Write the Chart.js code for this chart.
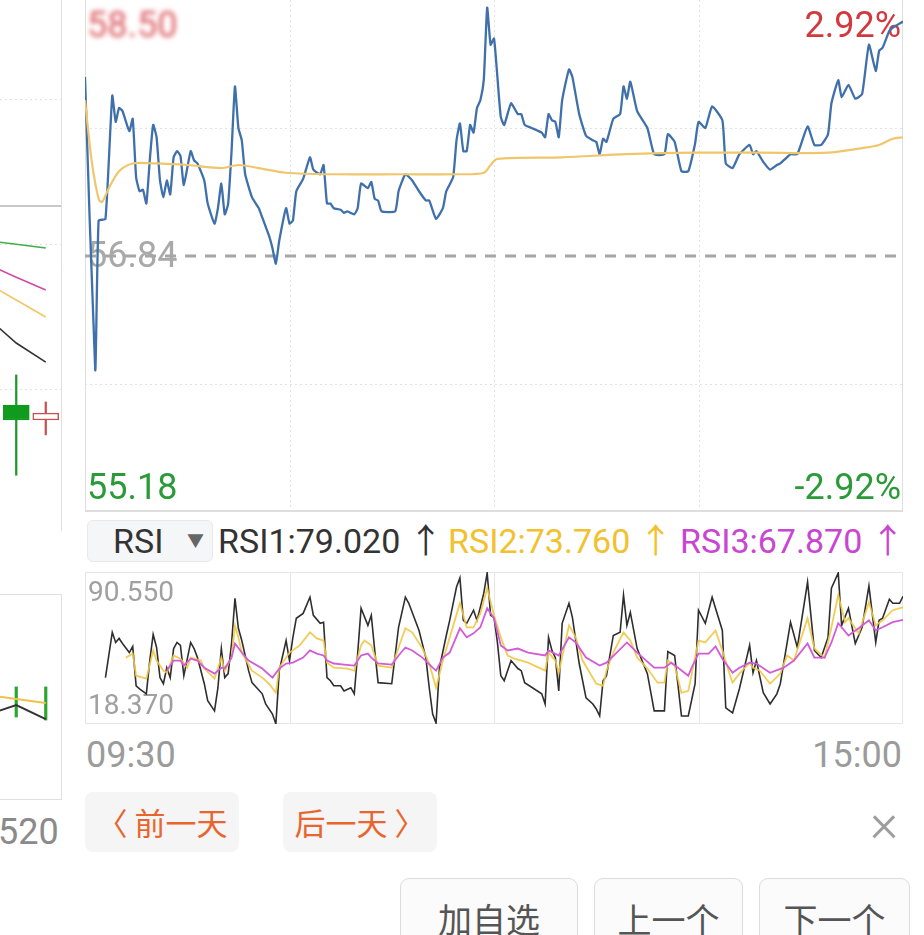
<!DOCTYPE html>
<html>
<head>
<meta charset="utf-8">
<script src="https://cdn.jsdelivr.net/npm/chart.js@4.4.1/dist/chart.umd.min.js"></script>
<style>
  html, body { margin: 0; padding: 0; background: #fff; width: 924px; height: 935px; overflow: hidden; }
  body { position: relative; font-family: Roboto, "Noto Sans CJK SC", sans-serif; }
  canvas { position: absolute; }
  .abs { position: absolute; white-space: nowrap; }
  .rsiBox { left: 87px; top: 520px; width: 124px; height: 40px; background: #f5f6f8; border: 1px solid #e8e9ec; border-radius: 6px; }
  .rsiTxt { top: 520px; height: 42px; line-height: 42px; font-size: 34px; }
  .timeTxt { top: 735px; line-height: 40px; font-size: 36px; color: #9b9b9b; }
  .dayBtn { top: 792px; width: 154px; height: 60px; line-height: 60px; background: #f5f5f5; border-radius: 8px; color: #e8662e; font-size: 31px; text-align: center; font-family: "Noto Sans CJK SC", sans-serif; }
  .navBtn { top: 878px; height: 80px; line-height: 80px; background: #fbfbfb; border: 1.5px solid #dcdcdc; border-radius: 9px; color: #555; font-size: 34px; text-align: center; font-family: "Noto Sans CJK SC", sans-serif; box-sizing: border-box; }
</style>
</head>
<body>
<canvas id="leftTop" width="62" height="531" style="left:0;top:0"></canvas>
<canvas id="leftBottom" width="62" height="206" style="left:0;top:594px"></canvas>
<canvas id="mainChart" width="818" height="512" style="left:85px;top:0"></canvas>
<canvas id="rsiChart" width="818" height="152" style="left:85px;top:572px"></canvas>

<div class="abs rsiBox">
  <span class="abs" style="left:25px;top:0;line-height:40px;font-size:34px;color:#333">RSI</span>
  <span class="abs" style="left:99px;top:0;line-height:40px;font-size:17px;color:#666">▼</span>
</div>
<div class="abs rsiTxt" id="rsi1Txt" style="left:218px;color:#333"></div>
<div class="abs rsiTxt" id="rsi2Txt" style="left:448px;color:#f2c12e"></div>
<div class="abs rsiTxt" id="rsi3Txt" style="left:680px;color:#c846d2"></div>

<div class="abs timeTxt" style="left:86px">09:30</div>
<div class="abs timeTxt" style="right:22px">15:00</div>

<div class="abs" style="left:-2px;top:812px;line-height:40px;font-size:36px;color:#8a8a8a">520</div>

<div class="abs dayBtn" style="left:85px">〈 前一天</div>
<div class="abs dayBtn" style="left:283px">后一天 〉</div>
<div class="abs" style="left:870px;top:796px;line-height:54px;font-size:54px;color:#9d9d9d;font-weight:300">×</div>

<div class="abs navBtn" style="left:400px;width:178px">加自选</div>
<div class="abs navBtn" style="left:594px;width:149px">上一个</div>
<div class="abs navBtn" style="left:759px;width:151px">下一个</div>

<script>
// ---- main intraday chart (minutes from 09:30, 0..240) ----
const prevClose = 56.84;
const limitPct = 2.92;
const gridMinutes = [60, 120, 180];
const mainGridPrices = [57.67, 56.01];

const priceMinutes = [0,3,4,6,8,9,10,11,13,14,
  15,16,17,18,19,20,21,22,23,24,
  25,26,27,28,29,31,32,33,35,36,
  38,39,40,41,42,43,44,45,46,47,
  49,51,52,54,55,56,57,59,60,61,
  62,64,66,67,69,70,71,72,73,75,
  76,77,79,80,81,83,84,85,86,87,
  91,92,94,96,98,100,101,103,105,106,
  108,109,110,111,112,113,114,115,116,117,
  118,119,120,121,122,123,125,127,128,129,
  131,134,135,136,137,138,139,140,142,143,
  145,147,149,150,151,152,153,155,157,158,
  159,160,162,165,167,170,171,173,175,177,
  179,180,182,184,187,188,190,192,195,196,
  197,199,201,203,204,207,209,212,214,216,
  218,219,221,222,224,226,228,230,232,233,
  234,236,237,240];
const priceValues = [58.00,56.10,57.07,57.08,57.88,57.71,57.80,57.78,57.65,57.73,
  57.35,57.26,57.27,57.18,57.46,57.69,57.61,57.33,57.22,57.33,
  57.24,57.48,57.52,57.49,57.30,57.52,57.46,57.44,57.33,57.18,
  57.05,57.15,57.31,57.11,57.18,57.52,57.94,57.67,57.59,57.37,
  57.22,57.15,57.09,56.97,56.89,56.79,56.94,57.15,57.05,57.07,
  57.26,57.34,57.48,57.40,57.37,57.43,57.18,57.18,57.15,57.14,
  57.12,57.13,57.11,57.15,57.31,57.28,57.32,57.21,57.20,57.13,
  57.13,57.26,57.37,57.33,57.26,57.20,57.20,57.08,57.15,57.26,
  57.35,57.59,57.70,57.52,57.52,57.69,57.64,57.80,57.85,57.98,
  58.45,58.21,58.25,58.00,57.74,57.69,57.83,57.76,57.76,57.69,
  57.67,57.64,57.61,57.76,57.72,57.71,57.61,57.85,58.05,58.00,
  57.76,57.62,57.59,57.58,57.50,57.60,57.58,57.73,57.76,57.94,
  57.86,57.97,57.78,57.67,57.50,57.50,57.63,57.58,57.39,57.39,
  57.57,57.71,57.67,57.81,57.72,57.44,57.41,57.50,57.56,57.50,
  57.52,57.45,57.40,57.43,57.44,57.50,57.50,57.68,57.56,57.56,
  57.63,57.83,57.98,57.87,57.95,57.86,57.89,58.21,58.04,58.17,
  58.19,58.30,58.32,58.36];

const avgMinutes = [0,2,4,5,7,10,14,20,30,40,45,51,59,73,93,110,117,119,121,140,159,179,198,218,228,233,237,240];
const avgValues = [57.85,57.45,57.21,57.19,57.28,57.39,57.44,57.44,57.43,57.41,57.43,57.41,57.38,57.37,57.37,57.37,57.38,57.43,57.47,57.48,57.50,57.51,57.51,57.51,57.54,57.56,57.60,57.61];

// ---- RSI panel ----
const rsiMax = 90.55;
const rsiMin = 18.37;
const rsi1Minutes = [6,8,9,10,11,13,14,15,16,18,
  19,20,21,22,23,24,25,26,27,28,
  29,31,32,33,35,36,38,39,40,41,
  42,43,44,45,46,48,49,52,53,55,
  56,57,59,60,61,62,64,66,67,69,
  70,71,72,73,75,76,78,79,80,81,
  83,84,85,86,90,92,94,95,98,100,
  101,102,103,104,106,107,109,110,111,112,
  114,115,116,117,118,119,120,121,122,123,
  125,127,128,129,134,135,136,137,138,139,
  140,142,143,145,147,149,150,151,152,153,
  155,157,158,159,160,162,165,167,170,171,
  173,175,177,179,180,182,184,187,188,190,
  192,195,196,197,199,201,203,204,207,209,
  212,214,216,218,219,221,222,224,226,228,
  230,232,233,234,236,237,239,240];
const rsi1Values = [40.4,61.9,57.1,59.0,56.6,52.3,55.2,36.5,35.1,32.7,
  48.5,60.9,54.7,40.4,37.5,45.1,40.4,54.2,57.1,55.7,
  41.3,57.1,54.2,49.9,37.5,29.4,24.6,35.6,54.2,40.4,
  42.3,56.6,78.1,63.8,58.0,43.7,38.0,32.7,27.9,23.1,
  18.4,43.7,58.0,48.5,59.5,68.6,70.9,78.6,70.0,66.2,
  66.7,40.4,38.9,36.5,36.5,34.1,35.6,32.7,51.8,73.3,
  65.2,70.0,53.3,38.0,37.5,64.3,78.6,75.7,62.8,49.9,
  35.6,23.1,18.8,45.1,60.4,67.6,83.4,87.7,67.6,66.2,
  72.4,67.6,73.8,80.5,90.1,70.0,69.0,57.1,41.3,38.9,
  48.5,44.7,43.7,38.0,32.7,27.9,59.5,53.3,49.9,34.1,
  66.2,75.7,69.0,47.1,30.8,27.9,25.5,22.2,38.9,41.3,
  60.4,61.9,79.6,65.2,71.4,54.2,42.3,24.6,24.6,52.8,
  50.9,22.2,22.2,37.5,72.4,66.2,78.6,62.8,26.0,23.6,
  35.1,55.7,42.7,48.5,33.2,27.9,32.7,37.5,66.7,54.7,
  85.8,53.3,49.9,59.5,82.9,90.1,65.2,73.3,56.6,64.3,
  83.9,57.1,67.6,68.6,77.6,75.7,75.7,79.02];

const rsi2Minutes = [12,14,15,18,20,21,23,24,26,28,
  30,31,34,35,38,40,41,43,44,45,
  46,49,52,54,56,57,59,60,63,66,
  68,70,71,73,77,79,81,82,84,86,
  90,92,94,96,99,101,103,105,107,110,
  112,114,116,118,120,122,124,126,130,135,
  136,138,139,142,144,146,150,152,153,155,
  158,160,162,165,168,170,171,173,175,177,
  180,182,185,187,189,190,192,195,196,198,
  201,204,206,208,212,214,217,219,221,223,
  224,227,230,232,234,237,240];
const rsi2Values = [49.9,51.8,41.3,39.9,53.3,48.5,43.7,42.7,50.9,49.4,
  45.1,49.9,48.5,44.7,39.9,49.9,43.7,49.9,65.2,59.5,
  52.3,43.7,40.4,37.5,33.2,45.1,49.9,52.3,55.7,61.9,
  59.0,58.0,47.5,45.1,44.7,43.7,55.7,58.0,55.7,46.1,
  45.1,54.7,63.8,61.9,54.2,47.1,35.6,48.5,59.5,75.7,
  64.3,64.3,70.9,82.9,70.0,59.5,50.9,49.4,47.5,43.7,
  52.3,48.5,42.7,65.2,59.5,48.5,37.5,36.5,43.7,52.3,
  61.9,58.0,49.9,44.7,38.0,38.0,48.5,46.1,33.2,34.1,
  58.0,57.1,62.8,53.3,42.7,38.0,42.3,47.5,45.1,43.7,
  37.5,42.3,50.9,48.5,68.6,54.2,49.9,64.3,79.6,66.7,
  68.6,61.4,76.2,65.2,67.6,72.4,73.76];

const rsi3Minutes = [24,26,28,29,31,33,35,38,40,41,
  43,44,46,48,52,55,57,59,61,64,
  66,68,70,71,73,76,79,81,83,84,
  86,90,92,94,96,99,102,103,105,107,
  110,112,114,116,118,120,122,124,127,130,
  135,136,139,142,144,147,151,153,156,159,
  162,167,170,172,174,177,178,180,183,185,
  187,190,192,195,197,201,205,208,212,214,
  217,219,221,224,227,230,232,234,237,240];
const rsi3Values = [43.7,48.5,48.5,46.1,49.4,48.5,45.1,42.3,45.1,44.7,
  49.9,56.6,52.3,48.5,44.7,40.4,44.7,47.1,47.5,49.9,
  53.3,51.8,50.9,48.5,47.1,46.6,46.1,50.9,51.8,49.9,
  47.1,46.6,50.9,54.7,53.3,49.9,45.1,43.7,49.9,52.3,
  63.8,59.5,61.4,64.3,73.3,68.6,55.7,53.3,54.2,52.3,
  50.9,53.3,50.9,59.5,57.1,49.9,46.1,47.5,52.3,57.1,
  52.3,45.1,45.1,47.5,45.1,41.3,45.1,51.8,51.8,55.2,
  49.4,42.7,45.1,47.5,47.1,42.7,45.1,48.5,56.6,49.9,
  49.9,57.1,66.2,60.4,63.8,67.6,62.8,64.3,66.7,67.87];

// ---- partly visible K-line panel on the left ----
const leftIdx = [-1, 0, 1];
const leftMaGreen = [55.47, 55.40, 55.33];
const leftMaPink = [55.03, 54.78, 54.54];
const leftMaYellow = [54.67, 54.35, 54.03];
const leftMaBlack = [54.03, 53.54, 53.18];
const candleIdx = [0, 1];
const candleOpen = [52.37, 52.09];
const candleClose = [52.09, 52.22];
const candleHigh = [52.94, 52.43];
const candleLow = [51.05, 51.81];
const leftGridPrices = [58.14, 55.40, 52.67];
const leftSplitPrice = 56.12;

const lowIdx = [-1, 0, 1];
const lowYellow = [51.0, 49.0, 47.1];
const lowBlack = [41.3, 46.1, 39.3];
const lowBarIdx = [0, 1];
const lowBarTop = [54.9, 54.9];
const lowBarBottom = [40.3, 38.8];

function pts(xs, ys) {
  return xs.map((x, i) => ({ x: x, y: ys[i] }));
}

function hline(ctx, x1, x2, y) {
  ctx.beginPath(); ctx.moveTo(x1, y); ctx.lineTo(x2, y); ctx.stroke();
}
function vline(ctx, x, y1, y2) {
  ctx.beginPath(); ctx.moveTo(x, y1); ctx.lineTo(x, y2); ctx.stroke();
}

Chart.defaults.font.family = 'Roboto';

const baseOpts = {
  responsive: false,
  animation: false,
  devicePixelRatio: 1,
  layout: { padding: 0 },
  plugins: { legend: { display: false }, tooltip: { enabled: false } },
  elements: { point: { radius: 0 } }
};

const upPrice = +(prevClose * (1 + limitPct / 100)).toFixed(2);
const downPrice = +(prevClose * (1 - limitPct / 100)).toFixed(2);

const mainDecor = {
  id: 'mainDecor',
  beforeDatasetsDraw(chart) {
    const { ctx, chartArea: a, scales: { x, y } } = chart;
    ctx.save();
    ctx.lineWidth = 1;
    ctx.strokeStyle = '#e2e2e2';
    ctx.setLineDash([2, 3]);
    gridMinutes.forEach(m => vline(ctx, Math.round(x.getPixelForValue(m)) + 0.5, a.top, a.bottom));
    mainGridPrices.forEach(p => hline(ctx, a.left, a.right, Math.round(y.getPixelForValue(p)) + 0.5));
    ctx.setLineDash([]);
    ctx.strokeStyle = '#dedede';
    vline(ctx, a.left + 0.5, a.top, a.bottom);
    vline(ctx, a.right - 0.5, a.top, a.bottom);
    ctx.lineWidth = 2;
    hline(ctx, a.left, a.right, a.bottom - 1);

    ctx.font = '36px Roboto';
    ctx.textBaseline = 'middle';
    ctx.textAlign = 'left';
    ctx.fillStyle = '#a9a9a9';
    ctx.fillText(prevClose.toFixed(2), a.left + 2, y.getPixelForValue(prevClose) + 2);
    ctx.fillStyle = '#2b9a38';
    ctx.fillText(downPrice.toFixed(2), a.left + 2, a.bottom - 22);
    ctx.textAlign = 'right';
    ctx.fillText('-' + limitPct.toFixed(2) + '%', a.right - 2, a.bottom - 22);
    ctx.fillStyle = '#d4383f';
    ctx.fillText(limitPct.toFixed(2) + '%', a.right - 2, a.top + 28);
    ctx.textAlign = 'left';
    ctx.filter = 'blur(2.5px)';
    ctx.fillStyle = 'rgba(212,56,63,0.85)';
    ctx.fillText(upPrice.toFixed(2), a.left + 2, a.top + 28);
    ctx.filter = 'none';

    ctx.strokeStyle = '#a6a6a6';
    ctx.lineWidth = 3;
    ctx.setLineDash([11, 9]);
    hline(ctx, a.left, a.right, y.getPixelForValue(prevClose));
    ctx.restore();
  }
};

new Chart(document.getElementById('mainChart'), {
  type: 'line',
  data: {
    datasets: [{
      data: pts(avgMinutes, avgValues),
      borderColor: '#efc66c',
      borderWidth: 2.2,
      tension: 0.3
    }, {
      data: pts(priceMinutes, priceValues),
      borderColor: '#3f70ab',
      borderWidth: 2.3,
      tension: 0.15
    }]
  },
  options: Object.assign({}, baseOpts, {
    scales: {
      x: { type: 'linear', min: 0, max: 240, display: false },
      y: { min: downPrice, max: upPrice, display: false }
    }
  }),
  plugins: [mainDecor]
});

const rsiDecor = {
  id: 'rsiDecor',
  beforeDatasetsDraw(chart) {
    const { ctx, chartArea: a, scales: { x } } = chart;
    ctx.save();
    ctx.lineWidth = 1;
    ctx.strokeStyle = '#e6e6e6';
    gridMinutes.forEach(m => vline(ctx, Math.round(x.getPixelForValue(m)) + 0.5, a.top, a.bottom));
    ctx.strokeRect(a.left + 0.5, a.top + 0.5, a.right - a.left - 1, a.bottom - a.top - 1);
    ctx.font = '28px Roboto';
    ctx.fillStyle = '#a0a0a0';
    ctx.textBaseline = 'middle';
    ctx.fillText(rsiMax.toFixed(3), a.left + 3, a.top + 22);
    ctx.fillText(rsiMin.toFixed(3), a.left + 3, a.bottom - 17);
    ctx.restore();
  }
};

new Chart(document.getElementById('rsiChart'), {
  type: 'line',
  data: {
    datasets: [{
      data: pts(rsi3Minutes, rsi3Values),
      borderColor: '#d35bd8',
      borderWidth: 1.8
    }, {
      data: pts(rsi2Minutes, rsi2Values),
      borderColor: 'rgba(240,200,70,0.9)',
      borderWidth: 1.8
    }, {
      data: pts(rsi1Minutes, rsi1Values),
      borderColor: '#2e2e2e',
      borderWidth: 1.6
    }]
  },
  options: Object.assign({}, baseOpts, {
    scales: {
      x: { type: 'linear', min: 0, max: 240, display: false },
      y: { min: rsiMin, max: rsiMax, display: false }
    }
  }),
  plugins: [rsiDecor]
});

function arrowText(label, v) {
  return label + ':' + v.toFixed(3) + ' ↑';
}
document.getElementById('rsi1Txt').textContent = arrowText('RSI1', rsi1Values[rsi1Values.length - 1]);
document.getElementById('rsi2Txt').textContent = arrowText('RSI2', rsi2Values[rsi2Values.length - 1]);
document.getElementById('rsi3Txt').textContent = arrowText('RSI3', rsi3Values[rsi3Values.length - 1]);

// ---- left panels ----
const leftTopDecor = {
  id: 'leftTopDecor',
  beforeDatasetsDraw(chart) {
    const { ctx, chartArea: a, scales: { y } } = chart;
    ctx.save();
    ctx.lineWidth = 1;
    ctx.strokeStyle = '#e2e2e2';
    ctx.setLineDash([2, 3]);
    leftGridPrices.forEach(p => hline(ctx, a.left, a.right, Math.round(y.getPixelForValue(p)) + 0.5));
    ctx.setLineDash([]);
    ctx.strokeStyle = '#c8c8c8';
    ctx.lineWidth = 2;
    hline(ctx, a.left, a.right, Math.round(y.getPixelForValue(leftSplitPrice)));
    ctx.strokeStyle = '#e0e0e0';
    ctx.lineWidth = 1;
    vline(ctx, a.right - 0.5, a.top, a.bottom);
    ctx.restore();
  }
};

// lower "order" is painted last (on top): body above wick
new Chart(document.getElementById('leftTop'), {
  data: {
    datasets: [
      { type: 'line', order: 0, data: pts(leftIdx, leftMaGreen), borderColor: '#3fae4a', borderWidth: 1.6 },
      { type: 'line', order: 0, data: pts(leftIdx, leftMaPink), borderColor: '#d04aa6', borderWidth: 1.6 },
      { type: 'line', order: 0, data: pts(leftIdx, leftMaYellow), borderColor: '#efc765', borderWidth: 1.6 },
      { type: 'line', order: 0, data: pts(leftIdx, leftMaBlack), borderColor: '#333', borderWidth: 1.6 },
      { type: 'bar', order: 2, data: candleIdx.map((c, i) => ({ x: c, y: [candleLow[i], candleHigh[i]] })),
        backgroundColor: candleIdx.map((c, i) => candleClose[i] < candleOpen[i] ? '#1f9a2a' : '#c9504f'),
        barThickness: 1.6, grouped: false },
      { type: 'bar', order: 1, data: candleIdx.map((c, i) => ({ x: c, y: [candleOpen[i], candleClose[i]] })),
        backgroundColor: candleIdx.map((c, i) => candleClose[i] < candleOpen[i] ? '#109a1e' : '#ffffff'),
        borderColor: candleIdx.map((c, i) => candleClose[i] < candleOpen[i] ? '#109a1e' : '#c9504f'),
        borderWidth: 1.5, borderSkipped: false, barThickness: 26, grouped: false }
    ]
  },
  options: Object.assign({}, baseOpts, {
    scales: {
      x: { type: 'linear', min: -0.55, max: 1.55, display: false, offset: false },
      y: { min: 50, max: 60, display: false }
    }
  }),
  plugins: [leftTopDecor]
});

const leftBottomDecor = {
  id: 'leftBottomDecor',
  beforeDatasetsDraw(chart) {
    const { ctx, chartArea: a } = chart;
    ctx.save();
    ctx.lineWidth = 1;
    ctx.strokeStyle = '#e0e0e0';
    hline(ctx, a.left, a.right, a.top + 0.5);
    hline(ctx, a.left, a.right, a.bottom - 0.5);
    vline(ctx, a.right - 0.5, a.top, a.bottom);
    ctx.restore();
  }
};

new Chart(document.getElementById('leftBottom'), {
  data: {
    datasets: [
      { type: 'line', data: pts(lowIdx, lowYellow), borderColor: '#efc24a', borderWidth: 2 },
      { type: 'line', data: pts(lowIdx, lowBlack), borderColor: '#333', borderWidth: 2 },
      { type: 'bar', data: lowBarIdx.map((c, i) => ({ x: c, y: [lowBarBottom[i], lowBarTop[i]] })),
        backgroundColor: '#2aa52f', barThickness: 2.5, grouped: false }
    ]
  },
  options: Object.assign({}, baseOpts, {
    scales: {
      x: { type: 'linear', min: -0.55, max: 1.55, display: false, offset: false },
      y: { min: 0, max: 100, display: false }
    }
  }),
  plugins: [leftBottomDecor]
});
</script>
</body>
</html>
